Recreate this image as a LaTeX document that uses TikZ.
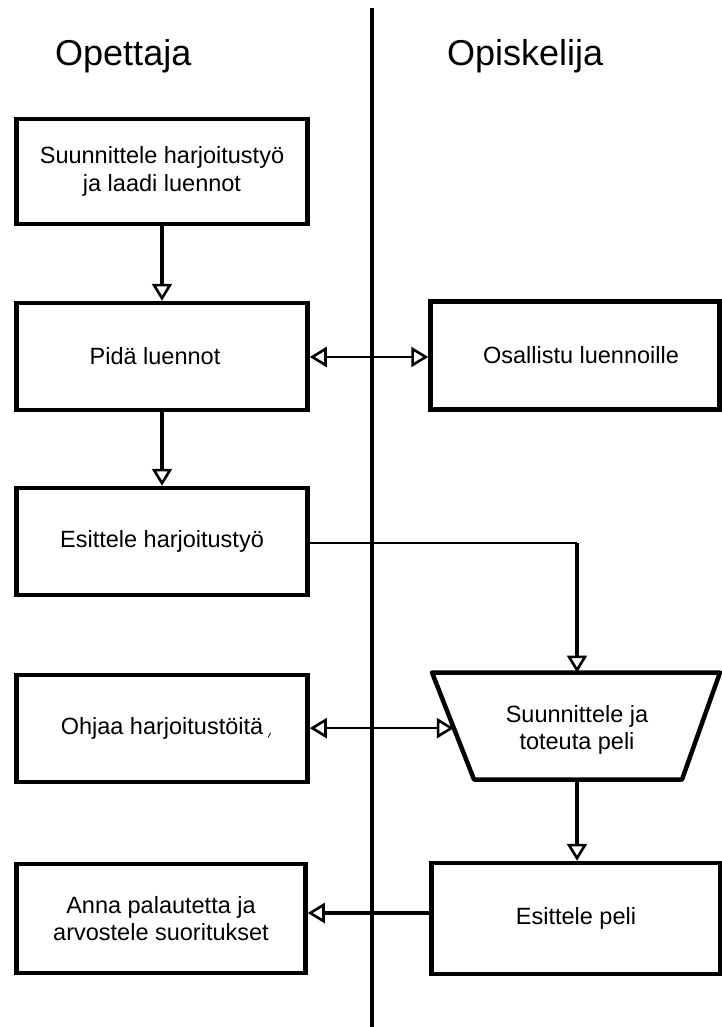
\documentclass[tikz,border=0pt]{standalone}
\usepackage{fontspec}
\setmainfont{Liberation Sans}
\usetikzlibrary{arrows.meta,calc}
\tikzset{ohead/.tip={Triangle[open, length=17pt, width=20pt, line width=2.6pt]}}
\begin{document}
\begin{tikzpicture}[x=1pt,y=-1pt,
  stepbox/.style={draw, line width=4.5pt, rectangle, inner sep=0pt,
    minimum width=291pt, minimum height=107pt, align=center,
    font=\fontsize{23.5}{27.5}\selectfont},
  lanetitle/.style={anchor=base west, inner sep=0pt, font=\fontsize{36}{40}\selectfont},
  flow/.style={line width=3.8pt, -{ohead}},
  link/.style={line width=1.8pt, {ohead}-{ohead}},
]
\useasboundingbox (0,0) rectangle (722,1027);

% swimlane divider and lane titles
\coordinate (divtop) at (372,8);
\coordinate (divbot) at (372,1027);
\draw[line width=4.5pt] (divtop) -- (divbot);
\node[lanetitle] (teacher) at (55,66) {Opettaja};
\node[lanetitle] (student) at (447,66) {Opiskelija};

% teacher lane
\node[stepbox, minimum height=105pt] (plan) at (162,171.5) {Suunnittele harjoitustyö\\ja laadi luennot};
\node[stepbox] (lecture) at (162,356.5) {Pidä luennot\hspace*{14pt}};
\node[stepbox] (present) at (162,541.5) {Esittele harjoitustyö};
\node[stepbox] (guide) at (162,728.5) {\raisebox{-7pt}{Ohjaa harjoitustöitä}};
\node[stepbox, minimum height=109pt, minimum width=289pt] (grade) at (161,918.5) {Anna palautetta ja\\arvostele suoritukset};
\draw[line width=0.8pt] (268,737.5) -- (270.5,733) coordinate (tick);

% student lane
\node[stepbox, minimum width=289pt, minimum height=108pt] (attend) at (575,355.5) {\hspace*{12pt}Osallistu luennoille};
\coordinate (tl) at (432,672.5);
\coordinate (tr) at (720,672.5);
\coordinate (br) at (682,779.5);
\coordinate (bl) at (474,779.5);
\draw[line width=4.5pt, line join=round] (tl) -- (tr) -- (br) -- (bl) -- cycle;
\node[align=center, font=\fontsize{23.5}{27.5}\selectfont] (build) at (577,730) {Suunnittele ja\\toteuta peli};
\coordinate (buildtop) at (577,672.5);
\coordinate (buildbot) at (577,779.5);
\coordinate (buildleft) at ($(tl)!0.52!(bl)$);
\node[stepbox, minimum width=289pt, minimum height=111pt] (demo) at (576,918.5) {Esittele peli};

% connectors
\draw[flow] (plan.south) -- (lecture.north);
\draw[flow] (lecture.south) -- (present.north);
\draw[link] (lecture.east |- 0,357) -- (attend.west |- 0,357);
\coordinate (corner) at (577,543);
\draw[line width=1.8pt] (present.east |- corner) -- (corner);
\draw[flow] (corner) -- (buildtop);
\draw[link] (guide.east |- buildleft) -- (buildleft);
\draw[flow] (buildbot) -- (demo.north -| buildbot);
\draw[flow] (demo.west |- 0,913) -- (grade.east |- 0,913);
\end{tikzpicture}
\end{document}
